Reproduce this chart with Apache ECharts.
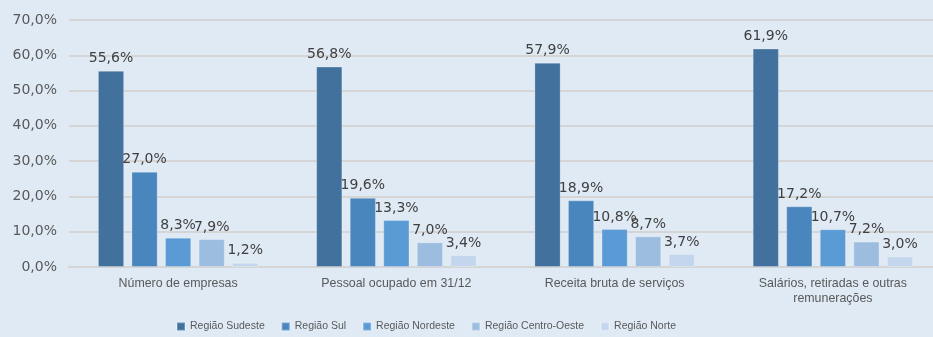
<!DOCTYPE html>
<html>
<head>
<meta charset="utf-8">
<script src="https://cdn.jsdelivr.net/npm/echarts@6/dist/echarts.min.js"></script>
<style>
html,body{margin:0;padding:0;background:#dfeaf4;}
#c{width:933px;height:337px;}
</style>
</head>
<body>
<div id="c"></div>
<script>
const categories = ["Número de empresas", "Pessoal ocupado em 31/12", "Receita bruta de serviços", "Salários, retiradas e outras\nremunerações"];
const seriesNames = ["Região Sudeste", "Região Sul", "Região Nordeste", "Região Centro-Oeste", "Região Norte"];
const sudeste = [55.6, 56.8, 57.9, 61.9];
const sul = [27.0, 19.6, 18.9, 17.2];
const nordeste = [8.3, 13.3, 10.8, 10.7];
const centroOeste = [7.9, 7.0, 8.7, 7.2];
const norte = [1.2, 3.4, 3.7, 3.0];
const yTicks = [0, 10, 20, 30, 40, 50, 60, 70];

const values = [sudeste, sul, nordeste, centroOeste, norte];
const colors = ["#41719c", "#4a86be", "#5b9bd5", "#9dbde0", "#c3d6ee"];
const fmt = v => v.toFixed(1).replace('.', ',') + '%';

const chart = echarts.init(document.getElementById('c'), null, {renderer: 'canvas'});
chart.setOption({
  backgroundColor: '#dfeaf4',
  animation: false,
  grid: {left: 69, right: -9, top: 20, bottom: 70, containLabel: false, outerBoundsMode: 'none'},
  legend: {
    left: 176, top: 321, padding: 0,
    itemWidth: 8, itemHeight: 8, itemGap: 16,
    icon: 'rect',
    textStyle: {fontFamily: '"Liberation Sans", Arial, sans-serif', fontSize: 10.5, color: '#595959'},
    data: seriesNames
  },
  xAxis: {
    type: 'category',
    data: categories,
    axisLine: {lineStyle: {color: '#d5d5d5', width: 2}},
    axisTick: {show: false},
    axisLabel: {fontFamily: '"Liberation Sans", Arial, sans-serif', fontSize: 12.4, color: '#595959', margin: 9, lineHeight: 15, interval: 0}
  },
  yAxis: {
    type: 'value',
    min: yTicks[0], max: yTicks[yTicks.length - 1], interval: 10,
    axisLine: {show: false},
    axisTick: {show: false},
    splitLine: {lineStyle: {color: '#d5d5d5', width: 2}},
    axisLabel: {fontFamily: '"DejaVu Sans", sans-serif', fontSize: 14, color: '#595959', margin: 12, formatter: v => fmt(v)}
  },
  series: seriesNames.map((n, i) => ({
    name: n,
    type: 'bar',
    data: values[i],
    barGap: '28%',
    barCategoryGap: '26.5%',
    itemStyle: {color: colors[i], borderColor: 'rgba(255,255,255,0.25)', borderWidth: 1},
    label: {show: true, position: 'top', distance: 5, fontFamily: '"DejaVu Sans", sans-serif', fontSize: 14, color: '#404040', formatter: p => fmt(p.value)}
  }))
});
</script>
</body>
</html>
